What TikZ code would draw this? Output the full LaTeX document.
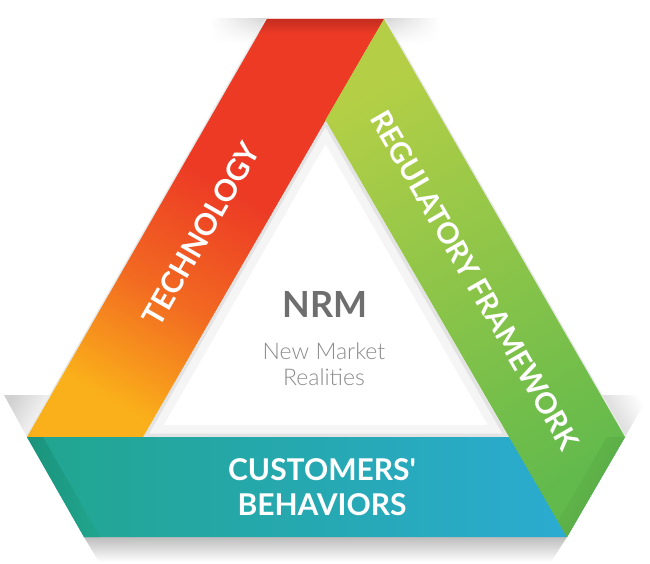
\documentclass[tikz,border=0pt]{standalone}
\usepackage{fontspec}
\setmainfont{Lato}
\newfontfamily\latolight{Lato Light}
\usetikzlibrary{calc,shadings}
\definecolor{techred}{HTML}{EC3A25}
\definecolor{techdark}{HTML}{C42D1F}
\definecolor{techorange}{HTML}{F26A21}
\definecolor{techyellow}{HTML}{FAB01A}
\definecolor{regtop}{HTML}{B4CF46}
\definecolor{regbottom}{HTML}{63BA4C}
\definecolor{regdark}{HTML}{57A843}
\definecolor{custleft}{HTML}{21A58E}
\definecolor{custright}{HTML}{2CACD8}
\definecolor{custdark}{HTML}{1A937C}
\definecolor{nrmgray}{HTML}{6E6E6E}
\definecolor{subgray}{HTML}{8A8A8A}
\pgfdeclareverticalshading{techshade}{100bp}{color(0bp)=(techyellow); color(25bp)=(techyellow); color(40bp)=(techorange); color(56bp)=(techred); color(100bp)=(techred)}

\begin{document}
\begin{tikzpicture}[x=1pt,y=-1pt,
  bandlabel/.style={text=white,font=\bfseries\fontsize{30}{35}\selectfont,inner sep=0pt},
  centerlabel/.style={text=nrmgray,font=\bfseries\fontsize{36}{38}\selectfont,inner sep=0pt},
  sublabel/.style={text=subgray,font=\latolight\fontsize{23}{26}\selectfont,align=center,inner sep=0pt}]
\useasboundingbox (0,0) rectangle (650,564);
\path (267,19) coordinate(a) (384,19) coordinate(b)
  (27,437) coordinate(c) (143,437) coordinate(d)
  (325.5,120) coordinate(i) (508.5,437) coordinate(e)
  (625,437) coordinate(f) (567,537) coordinate(g) (84,537) coordinate(h);

\shade[upper right=black!16,upper left=white,lower left=white,lower right=white] (210,19) rectangle (267,44);
\shade[upper left=black!16,upper right=white,lower left=white,lower right=white] (384,19) rectangle (440,44);
\shade[left color=black!18,right color=white,shading angle=60] (4,395) -- (52,395) -- (c) -- cycle;
\shade[right color=black!18,left color=white,shading angle=-60] (601,395) -- (649,395) -- (f) -- cycle;
\shade[top color=black!26,bottom color=white] (h) -- (g) -- (551,562) -- (99,562) -- cycle;
\draw[black!9,line width=3pt,line join=round] (a) -- (c) (b) -- (f);

\begin{scope}
  \clip (i) -- (d) -- (e) -- cycle;
  \draw[black!4,line width=24pt] (i) -- (d) -- (e) -- cycle;
  \draw[black!11,line width=7pt] (i) -- (d) -- (e) -- cycle;
\end{scope}

\shade[shading=techshade,shading angle=-30] (a) -- (b) -- (d) -- (c) -- cycle;
\shade[top color=techdark,bottom color=techred] (a) -- (b) -- ($(b)!0.035!(d)$) -- ($(a)!0.035!(c)$) -- cycle;
\shade[left color=custleft,right color=custright] (c) -- (f) -- (g) -- (h) -- cycle;
\shade[left color=custdark,right color=custleft] (c) -- ($(c)+(16,0)$) -- ($(h)+(16,0)$) -- (h) -- cycle;
\shade[top color=regtop,bottom color=regbottom,shading angle=30] (b) -- (f) -- (g) -- (i) -- cycle;
\begin{scope}
  \clip (b) -- (f) -- (g) -- (i) -- cycle;
  \shade[top color=regbottom,bottom color=regdark,shading angle=60] (f) -- (g) -- ($(g)+(-18,0)$) -- ($(f)+(-18,0)$) -- cycle;
\end{scope}

\node[bandlabel,rotate=60] (tech) at (201,234) {TECHNOLOGY};
\node[bandlabel,rotate=-60,font=\bfseries\fontsize{29}{34}\selectfont] (reg) at (475,280) {REGULATORY FRAMEWORK};
\node[bandlabel,align=center] (cust) at (322,487) {CUSTOMERS\textquotesingle\\BEHAVIORS};
\node[centerlabel] (nrm) at (325,304) {NRM};
\node[sublabel] (nmr) at (324,364) {New Market\\Realities};
\end{tikzpicture}
\end{document}
